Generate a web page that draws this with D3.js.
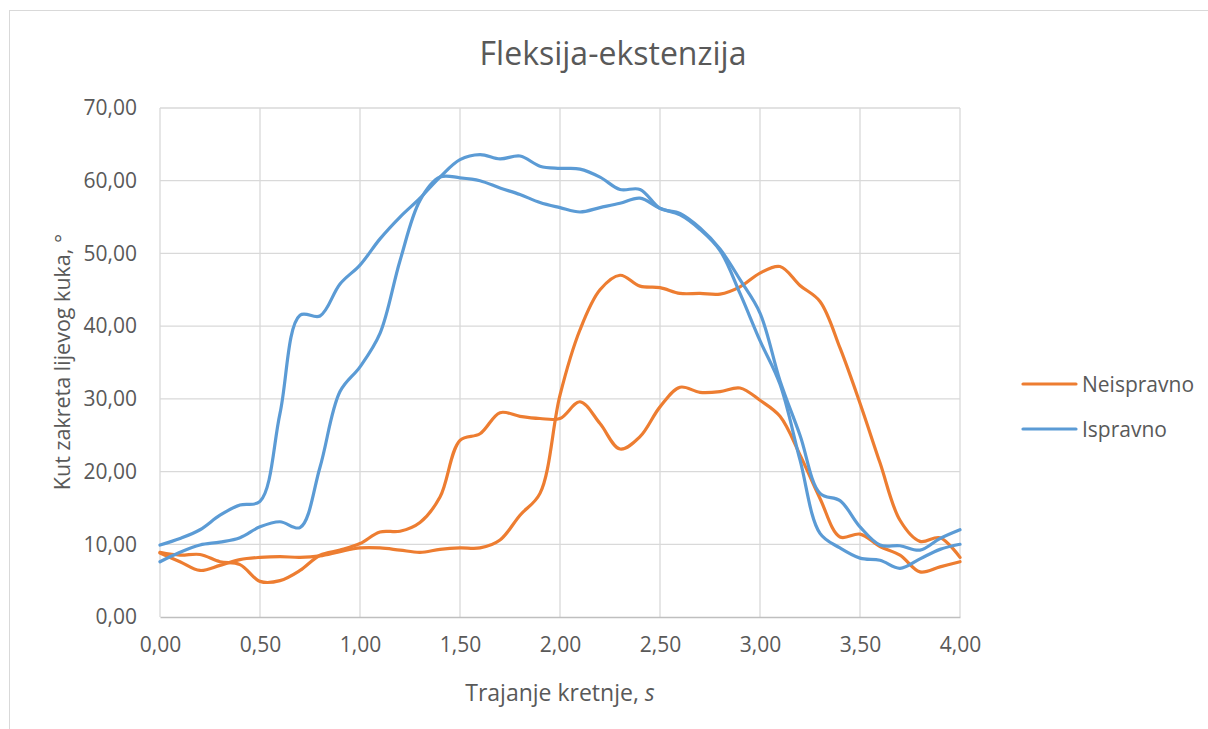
<!DOCTYPE html>
<html>
<head>
<meta charset="utf-8">
<script src="https://cdn.jsdelivr.net/npm/d3@7"></script>
<style>
  body { margin: 0; background: #fff; }
  svg { font-family: "Open Sans", "Noto Sans", sans-serif; }
  .tick text { fill: #595959; }
</style>
</head>
<body>
<svg width="1208" height="729"></svg>
<script>

// time (s), every 0.1
var time = [0.0, 0.1, 0.2, 0.3, 0.4, 0.5, 0.6, 0.7, 0.8, 0.9,
            1.0, 1.1, 1.2, 1.3, 1.4, 1.5, 1.6, 1.7, 1.8, 1.9,
            2.0, 2.1, 2.2, 2.3, 2.4, 2.5, 2.6, 2.7, 2.8, 2.9,
            3.0, 3.1, 3.2, 3.3, 3.4, 3.5, 3.6, 3.7, 3.8, 3.9, 4.0];

// Neispravno - two trials
var neispravno1 = [8.9, 8.5, 8.6, 7.6, 7.2, 4.9, 5.0, 6.4, 8.5, 9.2,
                   10.1, 11.7, 11.8, 13.0, 16.5, 24.3, 25.2, 28.1, 27.6, 27.3,
                   27.3, 29.6, 26.6, 23.1, 24.8, 28.9, 31.6, 30.9, 31.0, 31.5,
                   29.8, 27.6, 22.3, 16.3, 11.0, 11.4, 9.7, 8.5, 6.2, 6.9, 7.6];
var neispravno2 = [8.8, 7.6, 6.4, 7.1, 7.9, 8.2, 8.3, 8.2, 8.4, 9.0,
                   9.5, 9.5, 9.2, 8.9, 9.3, 9.5, 9.5, 10.6, 14.0, 17.0,
                   30.5, 39.5, 45.0, 47.0, 45.5, 45.3, 44.5, 44.5, 44.4, 45.4,
                   47.3, 48.2, 45.6, 43.4, 37.0, 29.4, 21.2, 13.3, 10.4, 10.9, 8.2];

// Ispravno - two trials
var ispravno1 = [9.9, 10.8, 12.0, 14.0, 15.4, 15.9, 28.0, 41.5, 41.4, 45.8,
                 48.4, 52.0, 55.0, 57.6, 60.5, 62.9, 63.6, 63.0, 63.4, 62.0,
                 61.7, 61.6, 60.5, 58.8, 58.8, 56.2, 55.5, 53.5, 50.6, 46.4,
                 41.8, 32.5, 25.0, 17.0, 16.0, 12.4, 9.9, 9.8, 9.2, 10.8, 12.0];
var ispravno2 = [7.6, 8.9, 9.9, 10.3, 10.9, 12.4, 13.1, 12.3, 20.6, 31.0,
                 34.4, 39.0, 49.0, 57.3, 60.5, 60.4, 60.0, 59.0, 58.1, 57.0,
                 56.3, 55.7, 56.3, 56.9, 57.6, 56.2, 55.3, 53.3, 50.4, 44.5,
                 38.0, 32.0, 21.6, 11.5, 9.5, 8.1, 7.8, 6.7, 8.0, 9.3, 10.0];

var xTicks = [0, 0.5, 1, 1.5, 2, 2.5, 3, 3.5, 4];
var yTicks = [0, 10, 20, 30, 40, 50, 60, 70];

var legendNames = ["Neispravno", "Ispravno"];
var colors = ["#ED7D31", "#5B9BD5"];

var series = [
  { name: "Neispravno", values: neispravno1, color: colors[0] },
  { name: "Neispravno", values: neispravno2, color: colors[0] },
  { name: "Ispravno", values: ispravno1, color: colors[1] },
  { name: "Ispravno", values: ispravno2, color: colors[1] }
];

var svg = d3.select("svg");
var fmt = function(d) { return d3.format(".2f")(d).replace(".", ","); };

var plot = {left: 160, right: 960, top: 108, bottom: 617};

var x = d3.scaleLinear().domain([0, 4]).range([plot.left, plot.right]);
var y = d3.scaleLinear().domain([0, 70]).range([plot.bottom, plot.top]);

// chart area border
svg.append("rect")
    .attr("x", 9.5).attr("y", 10.5)
    .attr("width", 1400).attr("height", 900)
    .attr("fill", "#fff")
    .attr("stroke", "#d9d9d9");

// gridlines
svg.append("g").selectAll("line")
    .data(yTicks.slice(1))
  .enter().append("line")
    .attr("x1", plot.left).attr("x2", plot.right)
    .attr("y1", function(d) { return y(d); })
    .attr("y2", function(d) { return y(d); })
    .attr("stroke", "#d9d9d9").attr("stroke-width", 1.3);

svg.append("g").selectAll("line")
    .data(xTicks)
  .enter().append("line")
    .attr("x1", function(d) { return x(d); })
    .attr("x2", function(d) { return x(d); })
    .attr("y1", plot.top).attr("y2", plot.bottom)
    .attr("stroke", "#d9d9d9").attr("stroke-width", 1.3);

// axes
var xAxis = svg.append("g")
    .attr("transform", "translate(0," + plot.bottom + ")")
    .call(d3.axisBottom(x).tickValues(xTicks).tickFormat(fmt).tickSize(0).tickPadding(20))
    .attr("font-family", null).attr("font-size", null);
xAxis.select(".domain").attr("stroke", "#bfbfbf").attr("stroke-width", 1.5);
xAxis.selectAll("text").style("font-size", "21px");

var yAxis = svg.append("g")
    .attr("transform", "translate(" + plot.left + ",0)")
    .call(d3.axisLeft(y).tickValues(yTicks).tickFormat(fmt).tickSize(0).tickPadding(23))
    .attr("font-family", null).attr("font-size", null);
yAxis.select(".domain").remove();
yAxis.selectAll("text").style("font-size", "21px");

// lines
var line = d3.line()
    .x(function(d, i) { return x(time[i]); })
    .y(function(d) { return y(d); })
    .curve(d3.curveCatmullRom.alpha(0.5));

svg.append("g").selectAll("path")
    .data(series)
  .enter().append("path")
    .attr("d", function(d) { return line(d.values); })
    .attr("fill", "none")
    .attr("stroke", function(d) { return d.color; })
    .attr("stroke-width", 3.2)
    .attr("stroke-linecap", "round")
    .attr("stroke-linejoin", "round");

// title
svg.append("text")
    .attr("x", 613).attr("y", 65)
    .attr("text-anchor", "middle")
    .attr("fill", "#595959")
    .style("font-size", "32px")
    .text("Fleksija-ekstenzija");

// axis titles
var xt = svg.append("text")
    .attr("x", (plot.left + plot.right) / 2).attr("y", 701)
    .attr("text-anchor", "middle")
    .attr("fill", "#595959")
    .style("font-size", "23px");
xt.append("tspan").text("Trajanje kretnje, ");
xt.append("tspan").style("font-style", "italic").text("s");

svg.append("text")
    .attr("transform", "translate(70,362) rotate(-90)")
    .attr("text-anchor", "middle")
    .attr("fill", "#595959")
    .style("font-size", "21.5px")
    .text("Kut zakreta lijevog kuka, °");

// legend
var legend = svg.append("g").selectAll("g")
    .data(legendNames)
  .enter().append("g")
    .attr("transform", function(d, i) { return "translate(1023," + (384 + i * 45) + ")"; });

legend.append("line")
    .attr("x1", 0).attr("x2", 53)
    .attr("stroke", function(d, i) { return colors[i]; })
    .attr("stroke-width", 3.2)
    .attr("stroke-linecap", "round");

legend.append("text")
    .attr("x", 59).attr("y", 8)
    .attr("fill", "#595959")
    .style("font-size", "21px")
    .text(function(d) { return d; });

</script>
</body>
</html>
